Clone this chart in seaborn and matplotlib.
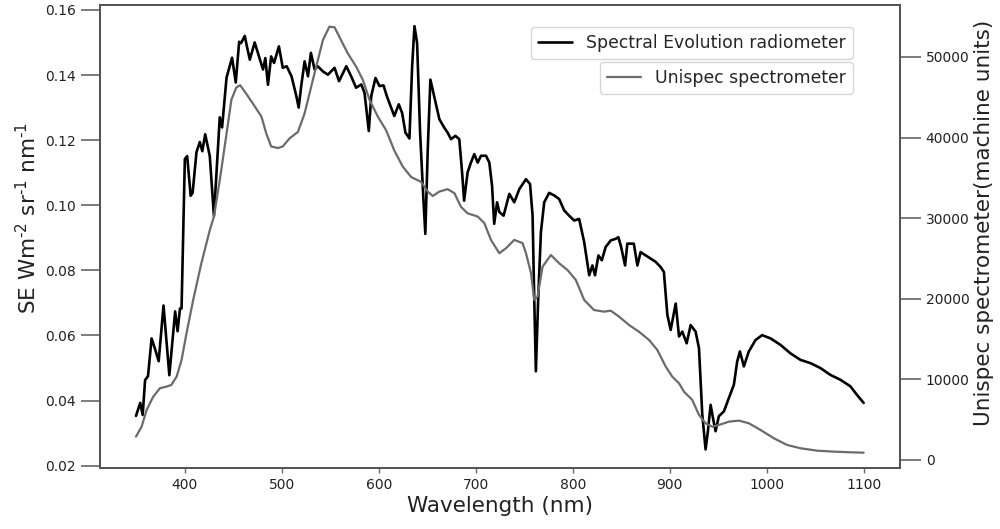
import matplotlib
matplotlib.use("Agg")
import matplotlib.pyplot as plt
import seaborn as sns

# ---- Spectral Evolution radiometer (left axis) ----
se_wl = [349.6, 354, 356.5, 359, 362, 365.7, 369, 373, 378, 384, 390, 392.5, 395, 396.6,
         400, 402.4, 406, 408, 412, 415.4, 418, 421, 425.7, 430, 433, 436, 438.4, 443,
         448.7, 452.5, 456, 458, 461.8, 464, 467, 472, 477, 480.6, 483, 485.7, 489, 492,
         497, 501, 505, 510, 515, 517.4, 520, 523.5, 527, 530, 533.8, 537, 542.4, 547.5,
         554.4, 559, 566.5, 571.5, 576.6, 582, 585.3, 589.7, 592.2, 596.6, 600.7, 604.9,
         608.3, 616, 620.6, 624, 627.5, 631.6, 634.4, 636.8, 639.5, 642.6, 646, 648,
         650.5, 653.2, 656.3, 659, 662.5, 667.6, 671, 674.5, 679, 683, 685.9, 688, 691.6,
         695, 698.5, 702, 705.4, 710.6, 714, 716.8, 719, 722, 724.3, 728.7, 734.6, 739.7,
         745, 751.8, 756, 758.6, 760.3, 762, 764.4, 767.2, 770.6, 775.7, 780.9, 786,
         791.2, 796.3, 801.5, 806.6, 811.8, 817, 820.3, 823, 826.5, 830, 834, 839.2,
         844.4, 847, 849.5, 854, 856.3, 863, 866.7, 870, 875.3, 880.4, 885.6, 890.7,
         894, 897.6, 901, 906.2, 909.6, 913, 917.5, 921.6, 926.7, 930.2, 933.6, 937,
         939.4, 942.2, 944.9, 947.3, 950.7, 955.9, 961, 966.2, 969.6, 972.4, 976.5,
         981.6, 988.5, 995.3, 1004, 1014.3, 1024.6, 1034.9, 1045.2, 1055.4, 1065.7,
         1076, 1086.3, 1093, 1100]
se_val = [0.0353, 0.0393, 0.0356, 0.0463, 0.0475, 0.0591, 0.0561, 0.0521, 0.0692, 0.0478,
          0.0674, 0.0613, 0.0683, 0.0683, 0.1142, 0.1151, 0.1029, 0.1038, 0.1163, 0.1194,
          0.1166, 0.1218, 0.1151, 0.0967, 0.1120, 0.1270, 0.1239, 0.1392, 0.1453, 0.1377,
          0.1502, 0.1498, 0.1520, 0.1488, 0.1447, 0.1500, 0.1452, 0.1417, 0.1452, 0.1370,
          0.1457, 0.1437, 0.1488, 0.1422, 0.1427, 0.1396, 0.1335, 0.1300, 0.1366, 0.1442,
          0.1396, 0.1468, 0.1417, 0.1427, 0.1411, 0.1401, 0.1422, 0.1381, 0.1427, 0.1396,
          0.1361, 0.1371, 0.1345, 0.1228, 0.1335, 0.1391, 0.1366, 0.1368, 0.1335, 0.1274,
          0.1310, 0.1284, 0.1223, 0.1205, 0.1427, 0.1550, 0.1498, 0.1223, 0.1019, 0.0912,
          0.1172, 0.1386, 0.1345, 0.1310, 0.1264, 0.1238, 0.1223, 0.1203, 0.1213, 0.1203,
          0.1101, 0.1014, 0.1101, 0.1131, 0.1157, 0.1131, 0.1152, 0.1152, 0.1131, 0.1060,
          0.0943, 0.1009, 0.0979, 0.0968, 0.1035, 0.1009, 0.1050, 0.1080, 0.1065, 0.0968,
          0.0714, 0.0490, 0.0714, 0.0918, 0.1009, 0.1038, 0.1030, 0.1019, 0.0984, 0.0968,
          0.0953, 0.0958, 0.0887, 0.0785, 0.0815, 0.0785, 0.0846, 0.0831, 0.0872, 0.0892,
          0.0897, 0.0902, 0.0877, 0.0815, 0.0882, 0.0882, 0.0815, 0.0856, 0.0846, 0.0836,
          0.0826, 0.0810, 0.0795, 0.0663, 0.0617, 0.0698, 0.0597, 0.0612, 0.0576, 0.0632,
          0.0612, 0.0561, 0.0357, 0.0250, 0.0306, 0.0387, 0.0342, 0.0306, 0.0352, 0.0367,
          0.0408, 0.0449, 0.0520, 0.0551, 0.0505, 0.0551, 0.0586, 0.0601, 0.0591, 0.0571,
          0.0545, 0.0525, 0.0515, 0.0500, 0.0479, 0.0464, 0.0444, 0.0418, 0.0393]

# ---- Unispec spectrometer (right axis) ----
uni_wl = [349.6, 355.4, 360.6, 367.4, 374.3, 381, 386, 391.5, 396.6, 401.7, 408.6, 417,
          425.7, 430, 436, 443, 448, 453, 457, 461.8, 470, 479, 484, 489, 496, 501, 508,
          516.6, 523.5, 532, 542.4, 549, 554.4, 561, 568, 576.7, 583.6, 590.5, 599, 607.6,
          616, 624.7, 633.4, 643.6, 650.5, 655.6, 662.5, 671, 678, 684.8, 691.6, 702,
          708.8, 715.7, 724.3, 731, 739.7, 748.3, 751.8, 757, 760.3, 763.7, 768.9, 777.5,
          786, 794.6, 803.2, 811.8, 822, 832.4, 839.2, 847.8, 858, 868.4, 878.7, 887.2,
          895.9, 902.7, 909.6, 914.7, 923.3, 930.2, 937, 943.9, 950.7, 961, 971.3, 981.6,
          993.7, 1007.4, 1021, 1034.9, 1052, 1069, 1086.3, 1100]
uni_val = [2890, 4130, 6200, 7850, 8900, 9100, 9300, 10330, 12400, 15700, 19850, 24400,
           28500, 30200, 34700, 40500, 44700, 46200, 46500, 45700, 44250, 42600, 40500,
           38900, 38700, 38900, 39900, 40700, 43000, 47150, 52100, 53760, 53680, 52100,
           50450, 48800, 47150, 44670, 42600, 40900, 38400, 36400, 35100, 34500, 33300,
           32750, 33300, 33600, 33100, 31400, 30600, 30200, 29400, 27300, 25650, 26250,
           27300, 26900, 25650, 23150, 19850, 20260, 23980, 25430, 24400, 23570, 22330,
           19850, 18600, 18400, 18520, 17780, 16750, 15900, 14890, 13650, 11580, 10330,
           9510, 8480, 7440, 5580, 4550, 4130, 4340, 4750, 4880, 4550, 3720, 2690, 1860,
           1450, 1150, 1030, 950, 900]

x_ticks = [400, 500, 600, 700, 800, 900, 1000, 1100]
left_ticks = [0.02, 0.04, 0.06, 0.08, 0.10, 0.12, 0.14, 0.16]
right_ticks = [0, 10000, 20000, 30000, 40000, 50000]

sns.set_style("ticks")
plt.rcParams["font.family"] = ["DejaVu Sans"]

spine_c = "#555555"
text_c = "#222222"

fig = plt.figure(figsize=(10, 5.29), dpi=100)
ax = fig.add_axes([0.1, 1 - 468 / 529, 0.8, 463 / 529])
ax2 = ax.twinx()

sns.lineplot(x=se_wl, y=se_val, ax=ax, color="black", linewidth=1.9,
             label="Spectral Evolution radiometer", legend=False)
sns.lineplot(x=uni_wl, y=uni_val, ax=ax2, color="#6b6b6b", linewidth=1.6,
             label="Unispec spectrometer", legend=False)

ax.set_xlim(312.5, 1137.5)
ax.set_ylim(0.0193, 0.1615)
ax2.set_ylim(-1000, 56450)
ax.set_xticks(x_ticks)
ax.set_yticks(left_ticks)
ax.set_yticklabels([f"{t:.2f}" for t in left_ticks])
ax2.set_yticks(right_ticks)
ax2.set_yticklabels([str(t) for t in right_ticks])

for a in (ax, ax2):
    for s in a.spines.values():
        s.set_color(spine_c)
        s.set_linewidth(1.4)
ax.tick_params(axis="y", length=14, width=1.2, color="#666666", labelcolor=text_c, labelsize=10)
ax.tick_params(axis="x", length=3.5, width=1.0, color="#666666", labelcolor=text_c, labelsize=10)
ax2.tick_params(axis="y", length=15, width=1.2, color="#666666", labelcolor=text_c, labelsize=10)

ax.set_xlabel("Wavelength (nm)", fontsize=15.5, color=text_c, labelpad=3)
ax.set_ylabel(r"SE Wm$^{\text{-2}}$ sr$^{\text{-1}}$ nm$^{\text{-1}}$", fontsize=15.5,
              color=text_c, labelpad=3, y=0.54)
ax2.set_ylabel("Unispec spectrometer(machine units)", fontsize=15.5, color=text_c,
               labelpad=3, y=0.53)

ax.legend(loc="upper right", bbox_to_anchor=(0.941, 0.9525), borderaxespad=0,
          fontsize=12.4)
ax2.legend(loc="upper right", bbox_to_anchor=(0.941, 0.877), borderaxespad=0,
           fontsize=12.4)

fig.savefig("out.png", dpi=100)
